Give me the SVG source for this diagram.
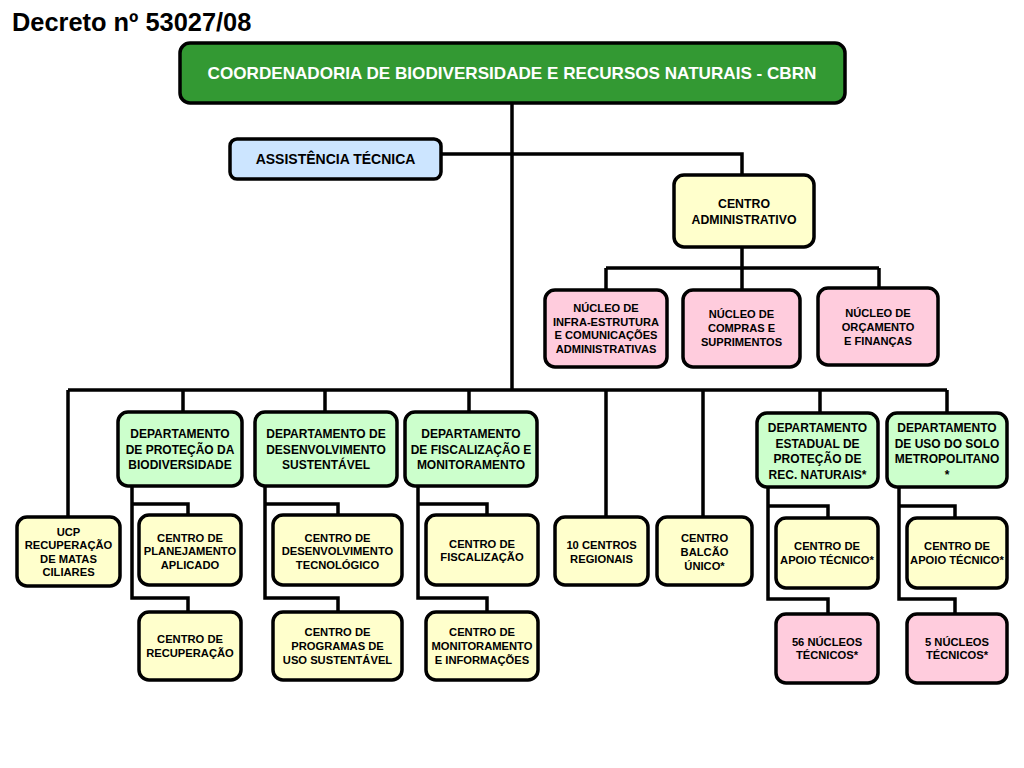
<svg xmlns="http://www.w3.org/2000/svg" width="1024" height="768" viewBox="0 0 1024 768">
<style>
.b{stroke:#000;stroke-width:3.5}
.g{fill:#339933}
.bl{fill:#cce5ff}
.y{fill:#ffffcc}
.p{fill:#ffccdd}
.gr{fill:#ccffcc}
.t{font-family:"Liberation Sans",Arial,Helvetica,sans-serif;font-weight:bold;text-anchor:middle;fill:#000}
.d{font-size:12px}
.c{font-size:11.2px}
.n{font-size:11.1px}
.con{fill:none;stroke:#000;stroke-width:3.5;stroke-linejoin:miter}
</style>
<rect width="1024" height="768" fill="#fff"/>
<text x="12" y="31" style="font-family:'Liberation Sans',Arial,sans-serif;font-weight:bold;font-size:25.4px;fill:#000">Decreto nº 53027/08</text>

<g id="connectors">
<path class="con" d="M512 103V390"/>
<path class="con" d="M440 154H742V175"/>
<path class="con" d="M742 248V268M606 268H879M606 268V289M742 268V289M879 268V289"/>
<path class="con" d="M68 390H947M68 390V517M183 390V412M325 390V412M469 390V412M606 390V517M703 390V517M820 390V413M947 390V413"/>
<path class="con" d="M132 485V598H188V612M132 504H188V515"/>
<path class="con" d="M265 485V598H338V612M265 504H338V515"/>
<path class="con" d="M418 485V598H487V612M418 504H487V515"/>
<path class="con" d="M768 487V599H828V614M768 506H828V518"/>
<path class="con" d="M899 487V599H955V614M899 506H955V518"/>
</g>

<g id="cbrn">
<rect class="b g" x="180" y="43" width="665" height="60" rx="10"/>
<text class="t" x="512" y="79" style="font-size:17.1px;fill:#fff">COORDENADORIA DE BIODIVERSIDADE E RECURSOS NATURAIS - CBRN</text>
</g>

<g id="assistencia">
<rect class="b bl" x="230" y="139" width="211" height="40" rx="7"/>
<text class="t" x="335.5" y="164" style="font-size:14px">ASSISTÊNCIA TÉCNICA</text>
</g>

<g id="centro-admin">
<rect class="b y" x="674" y="175" width="140" height="72" rx="10"/>
<text class="t" style="font-size:12.3px"><tspan x="744" y="207.7">CENTRO</tspan><tspan x="744" y="223.7">ADMINISTRATIVO</tspan></text>
</g>

<g id="nucleo-infra">
<rect class="b p" x="545" y="290" width="122" height="77" rx="10"/>
<text class="t n"><tspan x="606" y="311.8">NÚCLEO DE</tspan><tspan x="606" y="325.6">INFRA-ESTRUTURA</tspan><tspan x="606" y="339.4">E COMUNICAÇÕES</tspan><tspan x="606" y="353.2">ADMINISTRATIVAS</tspan></text>
</g>
<g id="nucleo-compras">
<rect class="b p" x="683" y="290" width="117" height="77" rx="10"/>
<text class="t n"><tspan x="741.5" y="318">NÚCLEO DE</tspan><tspan x="741.5" y="331.8">COMPRAS E</tspan><tspan x="741.5" y="345.6">SUPRIMENTOS</tspan></text>
</g>
<g id="nucleo-orcamento">
<rect class="b p" x="818" y="288" width="120" height="77" rx="10"/>
<text class="t n"><tspan x="878" y="317">NÚCLEO DE</tspan><tspan x="878" y="330.8">ORÇAMENTO</tspan><tspan x="878" y="344.6">E FINANÇAS</tspan></text>
</g>

<g id="ucp">
<rect class="b y" x="17" y="517" width="103" height="69" rx="10"/>
<text class="t c"><tspan x="68.5" y="535.6">UCP</tspan><tspan x="68.5" y="549.2">RECUPERAÇÃO</tspan><tspan x="68.5" y="562.8">DE MATAS</tspan><tspan x="68.5" y="576.4">CILIARES</tspan></text>
</g>

<g id="dept-protecao">
<rect class="b gr" x="118" y="412" width="124" height="74" rx="10"/>
<text class="t d"><tspan x="180" y="438.3">DEPARTAMENTO</tspan><tspan x="180" y="453.8">DE PROTEÇÃO DA</tspan><tspan x="180" y="469.3">BIODIVERSIDADE</tspan></text>
</g>
<g id="dept-desenvolvimento">
<rect class="b gr" x="255" y="412" width="142" height="74" rx="10"/>
<text class="t d"><tspan x="326" y="438.3">DEPARTAMENTO DE</tspan><tspan x="326" y="453.8">DESENVOLVIMENTO</tspan><tspan x="326" y="469.3">SUSTENTÁVEL</tspan></text>
</g>
<g id="dept-fiscalizacao">
<rect class="b gr" x="405" y="412" width="132" height="74" rx="10"/>
<text class="t d"><tspan x="471" y="438.3">DEPARTAMENTO</tspan><tspan x="471" y="453.8">DE FISCALIZAÇÃO E</tspan><tspan x="471" y="469.3">MONITORAMENTO</tspan></text>
</g>
<g id="dept-estadual">
<rect class="b gr" x="757" y="413" width="121" height="74" rx="10"/>
<text class="t d"><tspan x="817.5" y="432">DEPARTAMENTO</tspan><tspan x="817.5" y="447.5">ESTADUAL DE</tspan><tspan x="817.5" y="463">PROTEÇÃO DE</tspan><tspan x="817.5" y="478.5">REC. NATURAIS*</tspan></text>
</g>
<g id="dept-uso-solo">
<rect class="b gr" x="887" y="413" width="120" height="74" rx="10"/>
<text class="t d"><tspan x="947" y="432">DEPARTAMENTO</tspan><tspan x="947" y="447.5">DE USO DO SOLO</tspan><tspan x="947" y="463">METROPOLITANO</tspan><tspan x="947" y="478.5">*</tspan></text>
</g>

<g id="centro-planejamento">
<rect class="b y" x="139" y="515" width="102" height="70" rx="10"/>
<text class="t c"><tspan x="190" y="541.5">CENTRO DE</tspan><tspan x="190" y="555.1">PLANEJAMENTO</tspan><tspan x="190" y="568.7">APLICADO</tspan></text>
</g>
<g id="centro-recuperacao">
<rect class="b y" x="139" y="612" width="102" height="68" rx="10"/>
<text class="t c"><tspan x="190" y="643">CENTRO DE</tspan><tspan x="190" y="656.6">RECUPERAÇÃO</tspan></text>
</g>
<g id="centro-desenv-tec">
<rect class="b y" x="273" y="515" width="129" height="70" rx="10"/>
<text class="t c"><tspan x="337.5" y="541.5">CENTRO DE</tspan><tspan x="337.5" y="555.1">DESENVOLVIMENTO</tspan><tspan x="337.5" y="568.7">TECNOLÓGICO</tspan></text>
</g>
<g id="centro-programas">
<rect class="b y" x="273" y="612" width="129" height="68" rx="10"/>
<text class="t c"><tspan x="337.5" y="636.4">CENTRO DE</tspan><tspan x="337.5" y="650">PROGRAMAS DE</tspan><tspan x="337.5" y="663.6">USO SUSTENTÁVEL</tspan></text>
</g>
<g id="centro-fiscalizacao">
<rect class="b y" x="426" y="515" width="112" height="70" rx="10"/>
<text class="t c"><tspan x="482" y="547.7">CENTRO DE</tspan><tspan x="482" y="561.3">FISCALIZAÇÃO</tspan></text>
</g>
<g id="centro-monitoramento">
<rect class="b y" x="426" y="612" width="112" height="68" rx="10"/>
<text class="t c"><tspan x="482" y="636.4">CENTRO DE</tspan><tspan x="482" y="650">MONITORAMENTO</tspan><tspan x="482" y="663.6">E INFORMAÇÕES</tspan></text>
</g>
<g id="dez-centros">
<rect class="b y" x="555" y="517" width="93" height="68" rx="10"/>
<text class="t c"><tspan x="601.5" y="549.2">10 CENTROS</tspan><tspan x="601.5" y="562.8">REGIONAIS</tspan></text>
</g>
<g id="centro-balcao">
<rect class="b y" x="657" y="517" width="95" height="68" rx="10"/>
<text class="t c"><tspan x="704.5" y="542.4">CENTRO</tspan><tspan x="704.5" y="556">BALCÃO</tspan><tspan x="704.5" y="569.6">ÚNICO*</tspan></text>
</g>
<g id="apoio-estadual">
<rect class="b y" x="776" y="518" width="102" height="70" rx="10"/>
<text class="t c"><tspan x="827" y="550.2">CENTRO DE</tspan><tspan x="827" y="563.8">APOIO TÉCNICO*</tspan></text>
</g>
<g id="nucleos-56">
<rect class="b p" x="776" y="614" width="102" height="69" rx="10"/>
<text class="t c"><tspan x="827" y="645.5">56 NÚCLEOS</tspan><tspan x="827" y="659.1">TÉCNICOS*</tspan></text>
</g>
<g id="apoio-uso-solo">
<rect class="b y" x="907" y="518" width="100" height="70" rx="10"/>
<text class="t c"><tspan x="957" y="550.2">CENTRO DE</tspan><tspan x="957" y="563.8">APOIO TÉCNICO*</tspan></text>
</g>
<g id="nucleos-5">
<rect class="b p" x="907" y="614" width="100" height="69" rx="10"/>
<text class="t c"><tspan x="957" y="645.5">5 NÚCLEOS</tspan><tspan x="957" y="659.1">TÉCNICOS*</tspan></text>
</g>
</svg>
